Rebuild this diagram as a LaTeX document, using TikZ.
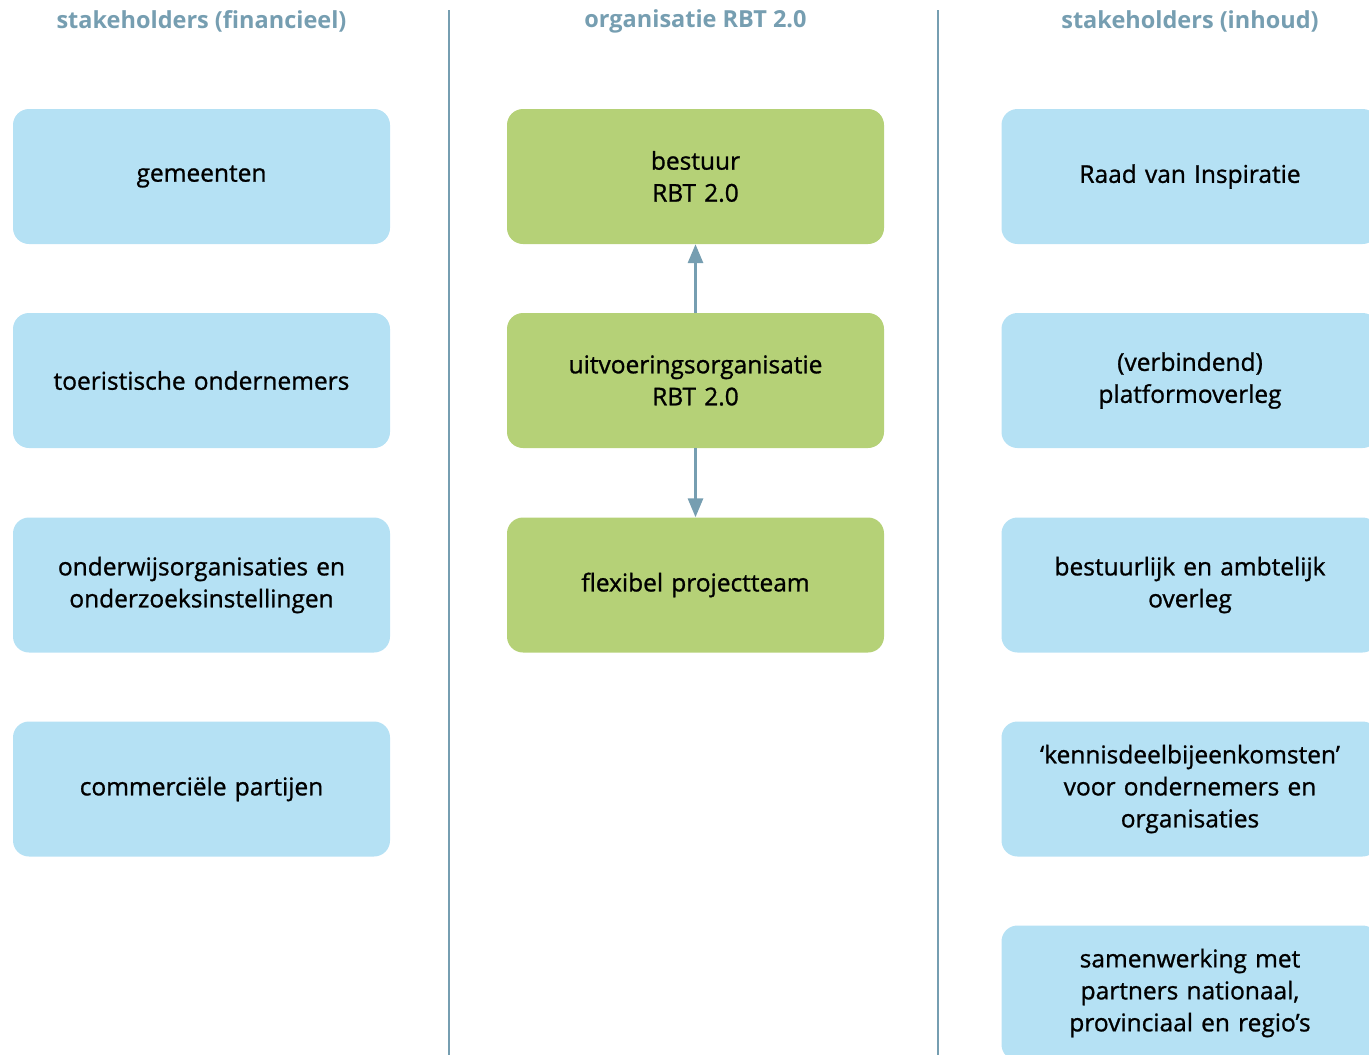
\documentclass[tikz,border=0pt]{standalone}
\usepackage{fontspec}
\setmainfont{Open Sans}
\newfontfamily\vakfont[FakeBold=1.0]{Open Sans}
\usetikzlibrary{arrows.meta,positioning}

\definecolor{kopblauw}{RGB}{118,158,177}
\definecolor{lichtblauw}{RGB}{181,225,244}
\definecolor{groen}{RGB}{181,209,119}

\tikzset{
	vak/.style={rectangle, rounded corners=16pt, minimum width=377pt, minimum height=135pt, text width=360pt, align=center, inner sep=0pt, font=\vakfont\fontsize{24.5}{32}\selectfont},
	stakeholder/.style={vak, fill=lichtblauw},
	orgvak/.style={vak, fill=groen},
	kop/.style={text=kopblauw, font=\fontsize{23.5}{28}\selectfont\bfseries},
	scheiding/.style={kopblauw, line width=2.5pt},
	pijl/.style={kopblauw, line width=3pt, -{Triangle[length=19pt,width=15pt]}}
}

\begin{document}
\begin{tikzpicture}[x=1pt,y=-1pt]
					\clip (0,0) rectangle (1369,1055);

					\node[kop] (kopfin) at (201.5,21) {stakeholders (financieel)};
					\node[kop] (koporg) at (695.5,21) {organisatie RBT 2.0};
					\node[kop] (kopinh) at (1190,21) {stakeholders (inhoud)};

					\coordinate (lijnAboven) at (449,10);
					\coordinate (lijnAonder) at (449,1055);
					\coordinate (lijnBboven) at (938,10);
					\coordinate (lijnBonder) at (938,1055);
					\draw[scheiding] (lijnAboven) -- (lijnAonder);
					\draw[scheiding] (lijnBboven) -- (lijnBonder);

					\node[stakeholder] (gemeenten) at (201.5,176.5) {gemeenten};
					\node[stakeholder] (ondernemers) at (201.5,380.5) {toeristische ondernemers};
					\node[stakeholder] (onderwijs) at (201.5,585) {onderwijsorganisaties en\\onderzoeksinstellingen};
					\node[stakeholder] (commercieel) at (201.5,789) {commerciële partijen};

					\node[orgvak] (bestuur) at (695.5,176.5) {bestuur\\RBT 2.0};
					\node[orgvak] (uitvoering) at (695.5,380.5) {uitvoeringsorganisatie\\RBT 2.0};
					\node[orgvak] (projectteam) at (695.5,585) {flexibel projectteam};

					\node[stakeholder] (inspiratie) at (1190,176.5) {Raad van Inspiratie};
					\node[stakeholder] (platform) at (1190,380.5) {(verbindend)\\platformoverleg};
					\node[stakeholder] (overleg) at (1190,585) {bestuurlijk en ambtelijk\\overleg};
					\node[stakeholder] (kennis) at (1190,789) {‘kennisdeelbijeenkomsten’\\voor ondernemers en\\organisaties};
					\node[stakeholder] (samenwerking) at (1190,993) {samenwerking met\\partners nationaal,\\provinciaal en regio’s};

					\draw[pijl] (uitvoering.north) -- (bestuur.south);
					\draw[pijl] (uitvoering.south) -- (projectteam.north);
				\end{tikzpicture}
\end{document}
